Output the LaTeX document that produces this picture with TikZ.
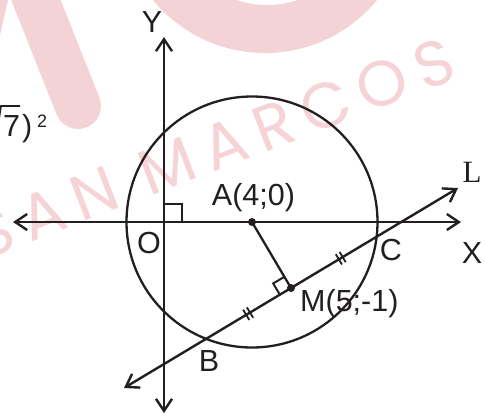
\documentclass[tikz,border=0pt]{standalone}
\usepackage{fontspec}
\setmainfont{Liberation Sans}
\newfontfamily\serifL{Liberation Serif}
\newfontfamily\wmfont[LetterSpace=18]{Poppins}
\usetikzlibrary{arrows.meta,calc}
\definecolor{ink}{HTML}{231F20}
\definecolor{wm}{HTML}{F4D3D6}
\definecolor{wmtext}{HTML}{F5D3D6}
\tikzset{
  axis/.style={draw=ink,line width=2.4pt,{Straight Barb[length=12pt,width=16pt,line width=2.4pt]}-{Straight Barb[length=12pt,width=16pt,line width=2.4pt]}},
  thin line/.style={draw=ink,line width=2.3pt},
  lbl/.style={text=ink,font=\fontsize{30.5}{34}\selectfont,inner sep=0pt},
  tickmark/.style={draw=ink,line width=1.8pt},
  dot/.style={fill=ink,circle,inner sep=0pt,minimum size=8pt}
}
\begin{document}
\begin{tikzpicture}[x=1pt,y=-1pt]
\useasboundingbox (0,0) rectangle (485,416);
% watermark
\begin{scope}
\clip (0,0) rectangle (485,416);
\fill[wm,even odd rule] (265,-92) circle[radius=145pt] (267,-92) circle[radius=97pt];
\draw[wm,line width=46pt,line cap=round] (28,-20) -- (78,106);
\fill[wm] (0,0) -- (8,0) -- (0,35) -- cycle;
\node[text=wmtext,rotate=21,font=\wmfont\fontsize{64}{64}\selectfont,inner sep=0pt] (wmtxt) at (214,148) {SAN MARCOS};
\end{scope}
% points
\coordinate (O) at (164,222);
\coordinate (A) at (252,222);
\coordinate (M) at (291,288);
\coordinate (Ltop) at (458,188);
\coordinate (Lbot) at (124,388);
\coordinate (C) at ($(M)!99.4pt!(Ltop)$);
\coordinate (B) at ($(M)!99.4pt!(Lbot)$);
\coordinate (Xl) at (13,222);
\coordinate (Xr) at (461,222);
\coordinate (Yt) at (164,37);
\coordinate (Yb) at (164,413);
% axes
\draw[axis] (Xl) -- (Xr);
\draw[axis] (Yb) -- (Yt);
% circle
\draw[thin line] (A) circle[radius=125.5pt];
% line L
\draw[axis] (Lbot) -- (Ltop);
% AM
\draw[thin line] (A) -- (M);
% right angle at O
\draw[thin line,line width=2pt] (164,204) -- (182,204) -- (182,222);
% right angle at M
\draw[thin line,line width=2pt] ($(M)!13pt!(A)$) -- ($(M)!13pt!(A)!13pt!90:(A)$) -- ($(M)!13pt!(B)$);
% ticks
\foreach \d/\t in {58/Ltop,50/Lbot}{
  \foreach \s in {-2.2,2.2}{
    \coordinate (tc) at ($(M)!\d pt+\s pt!(\t)$);
    \draw[tickmark] ($(tc)!6pt!90:(M)$) -- ($(tc)!6pt!-90:(M)$);
  }
}
% dots
\node[dot] (Ad) at (A) {};
\node[dot] (Md) at (M) {};
% labels
\node[lbl] (Ylab) at (152,22) {Y};
\node[lbl] (Xlab) at (472,253) {X};
\node[lbl] (Olab) at (149,242.5) {O};
\node[lbl] (Clab) at (391,250) {C};
\node[lbl] (Blab) at (209,361.5) {B};
\node[lbl,anchor=base] (Alab) at (253.5,205) {A(4;0)};
\node[lbl,anchor=base west] (Mlab) at (300,311) {M(5;-1)};
\node[text=ink,font=\serifL\fontsize{31}{34}\selectfont,inner sep=0pt] (Llab) at (472,172) {L};
% cut-off expression at left
\node[lbl,anchor=base west] (seven) at (3,136) {7};
\node[lbl,anchor=base west] (paren) at (22,136) {)};
\node[text=ink,font=\fontsize{18}{18}\selectfont,inner sep=0pt,anchor=base west] (sq) at (37,127) {2};
\draw[ink,line width=1.6pt] (-4,140) -- (1,106) -- (20,106);
\end{tikzpicture}
\end{document}
